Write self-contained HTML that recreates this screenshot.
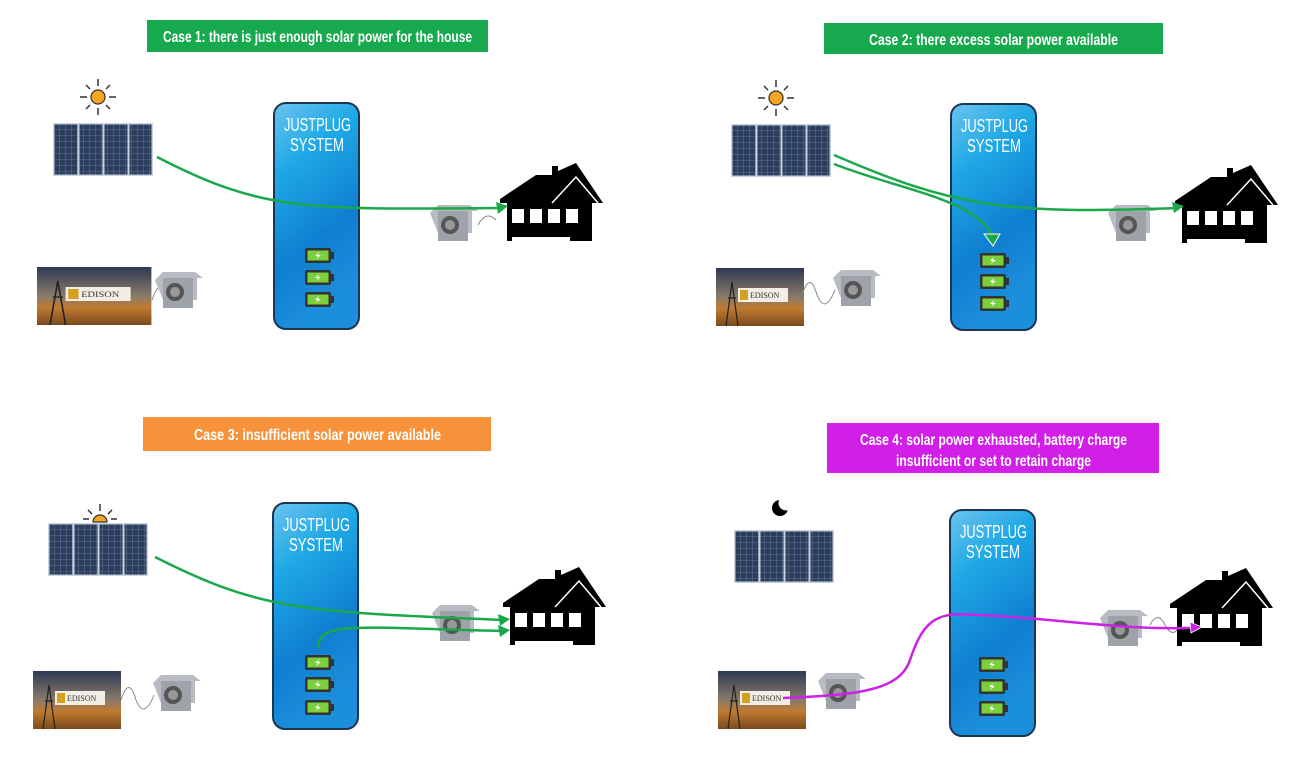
<!DOCTYPE html>
<html><head><meta charset="utf-8"><style>
html,body{margin:0;padding:0;background:#fff;}
svg{display:block;}
.lbl{font-family:"Liberation Sans",sans-serif;font-weight:bold;font-size:16px;fill:#fff;}
.jp{font-family:"Liberation Sans",sans-serif;font-size:18px;fill:#fff;}
</style></head><body>
<svg width="1307" height="758" viewBox="0 0 1307 758" xmlns="http://www.w3.org/2000/svg">
<defs>
<linearGradient id="bg" x1="0" y1="0" x2="0.3" y2="1">
<stop offset="0" stop-color="#6cc4ee"/><stop offset="0.3" stop-color="#1fa9e6"/><stop offset="0.7" stop-color="#0f7fd0"/><stop offset="1" stop-color="#1c8fdc"/>
</linearGradient>
<linearGradient id="ed" x1="0" y1="0" x2="0" y2="1">
<stop offset="0" stop-color="#2d3a52"/><stop offset="0.5" stop-color="#8a7a6a"/><stop offset="0.7" stop-color="#c07a30"/><stop offset="1" stop-color="#7a4a1e"/>
</linearGradient>
<pattern id="cells" width="6" height="6" patternUnits="userSpaceOnUse">
<rect width="6" height="6" fill="#2c3e5e"/><path d="M0 0H6M0 0V6" stroke="#8a9bb5" stroke-width="0.6"/>
</pattern>
<g id="panel">
<rect x="0" y="0" width="100" height="53" fill="#c9d3df"/>
<rect x="1.5" y="1.5" width="23" height="50" fill="url(#cells)"/>
<rect x="26.5" y="1.5" width="23" height="50" fill="url(#cells)"/>
<rect x="51.5" y="1.5" width="23" height="50" fill="url(#cells)"/>
<rect x="76.5" y="1.5" width="22" height="50" fill="url(#cells)"/>
</g>
<g id="sun">
<circle r="7" fill="#f5a623" stroke="#333" stroke-width="1.2"/>
<g stroke="#333" stroke-width="1.5">
<path d="M0-11V-18M0 11V18M-11 0H-18M11 0H18M8-8L12-12M-8-8L-12-12M8 8L12 12M-8 8L-12 12"/>
</g>
</g>
<g id="batt">
<rect x="0" y="0" width="26" height="15" rx="2" fill="#333"/>
<rect x="26" y="4" width="3" height="7" fill="#333"/>
<rect x="2.5" y="2.5" width="21" height="10" fill="#7ccf3c"/>
<path d="M14 4L10 8H13L11 11L16 7H13Z" fill="#fff"/>
</g>
<g id="jp">
<rect x="0" y="0" width="85" height="226" rx="12" fill="url(#bg)" stroke="#1d3553" stroke-width="2"/>
<text class="jp" x="10" y="28" textLength="67" lengthAdjust="spacingAndGlyphs">JUSTPLUG</text>
<text class="jp" x="16" y="48" textLength="54" lengthAdjust="spacingAndGlyphs">SYSTEM</text>
</g>
<g id="house">
<polygon points="0,36 36,12 52,12 52,3 58,3 58,8 76,0 103,40 92,40 92,78 70,78 70,74 12,74 12,78 7,78 7,40 0,40" fill="#000"/>
<rect x="12" y="46" width="12" height="14" fill="#fff"/>
<rect x="30" y="46" width="12" height="14" fill="#fff"/>
<rect x="48" y="46" width="12" height="14" fill="#fff"/>
<rect x="66" y="46" width="12" height="14" fill="#fff"/>
<polyline points="52,40 76,14 98,40" fill="none" stroke="#fff" stroke-width="1.5"/>
</g>
<g id="meter">
<path d="M0 10L8 2H40L48 8H42V30H8Z" fill="#b8bcc2"/>
<rect x="8" y="8" width="30" height="30" fill="#9ea3a9"/>
<circle cx="20" cy="22" r="9" fill="#555"/><circle cx="20" cy="22" r="5" fill="#999"/>
</g>
<g id="edison">
<rect x="0" y="0" width="88" height="58" fill="url(#ed)"/>
<path d="M10 58L16 14L22 58M12 30H20" stroke="#222" stroke-width="1.2" fill="none"/>
<rect x="22" y="20" width="50" height="14" fill="#f2eee6"/>
<rect x="24" y="22" width="8" height="10" fill="#d4a020"/>
<text x="34" y="30" font-family="Liberation Serif,serif" font-size="8" fill="#333">EDISON</text>
</g>
</defs>

<!-- Case 1 -->
<rect x="147" y="20" width="341" height="32" fill="#17a94e"/>
<text class="lbl" x="163" y="42" textLength="309" lengthAdjust="spacingAndGlyphs">Case 1: there is just enough solar power for the house</text>
<use href="#sun" x="98" y="97"/>
<use href="#panel" x="53" y="123"/>
<use href="#jp" x="274" y="103"/>
<use href="#batt" x="305" y="248"/><use href="#batt" x="305" y="270"/><use href="#batt" x="305" y="292"/>
<use href="#meter" x="430" y="203"/>
<path d="M478 225q8 -15 18 -5" stroke="#888" fill="none"/>
<use href="#house" x="500" y="163"/>
<g transform="translate(37 267) scale(1.3 1)"><use href="#edison"/></g>
<path d="M152 300q8 -25 15 0" stroke="#888" fill="none"/>
<use href="#meter" x="155" y="270"/>
<path d="M157 157C260 210 300 210 500 208" stroke="#1aa84a" stroke-width="2.5" fill="none"/>
<path d="M496 202L508 206L498 214Z" fill="#1aa84a"/>

<!-- Case 2 -->
<rect x="824" y="23" width="339" height="31" fill="#17a94e"/>
<text class="lbl" x="869" y="45" textLength="249" lengthAdjust="spacingAndGlyphs">Case 2: there excess solar power available</text>
<use href="#sun" x="776" y="98"/>
<use href="#panel" x="731" y="124"/>
<use href="#jp" x="951" y="104"/>
<use href="#batt" x="980" y="253"/><use href="#batt" x="980" y="274"/><use href="#batt" x="980" y="296"/>
<use href="#meter" x="1108" y="203"/>
<use href="#house" x="1175" y="165"/>
<use href="#edison" x="716" y="268"/>
<path d="M802 295q8 -25 15 0q8 20 18 -5" stroke="#888" fill="none"/>
<use href="#meter" x="833" y="268"/>
<path d="M834 155C950 205 1000 215 1178 208" stroke="#1aa84a" stroke-width="2.5" fill="none"/>
<path d="M1172 202L1184 206L1174 213Z" fill="#1aa84a"/>
<path d="M834 164C900 190 980 200 993 238" stroke="#1aa84a" stroke-width="2.5" fill="none"/>
<path d="M984 234L1000 234L993 246Z" fill="#1aa84a" stroke="#fff" stroke-width="1"/>

<!-- Case 3 -->
<rect x="143" y="417" width="348" height="34" fill="#f7923a"/>
<text class="lbl" x="194" y="440" textLength="247" lengthAdjust="spacingAndGlyphs">Case 3: insufficient solar power available</text>
<path d="M93 522A7 7 0 0 1 107 522Z" fill="#f5a623" stroke="#333" stroke-width="1.2"/>
<path d="M100 511V504M92 514L88 510M108 514L112 510M89 519H83M111 519H117" stroke="#333" stroke-width="1.5"/>
<use href="#panel" x="48" y="523"/>
<use href="#jp" x="273" y="503"/>
<use href="#batt" x="305" y="655"/><use href="#batt" x="305" y="677"/><use href="#batt" x="305" y="700"/>
<use href="#meter" x="432" y="603"/>
<use href="#house" x="503" y="567"/>
<use href="#edison" x="33" y="671"/>
<path d="M121 700q8 -25 15 0q8 20 18 -5" stroke="#888" fill="none"/>
<use href="#meter" x="153" y="673"/>
<path d="M155 557C260 610 300 612 505 620" stroke="#1aa84a" stroke-width="2.5" fill="none"/>
<path d="M498 614L510 619L500 626Z" fill="#1aa84a"/>
<path d="M318 648C318 620 360 628 505 631" stroke="#1aa84a" stroke-width="2.5" fill="none"/>
<path d="M498 625L510 630L500 637Z" fill="#1aa84a"/>

<!-- Case 4 -->
<rect x="827" y="423" width="332" height="50" fill="#d21fe8"/>
<text class="lbl" x="860" y="445" textLength="267" lengthAdjust="spacingAndGlyphs">Case 4: solar power exhausted, battery charge</text>
<text class="lbl" x="896" y="466" textLength="195" lengthAdjust="spacingAndGlyphs">insufficient or set to retain charge</text>
<circle cx="780" cy="508" r="8" fill="#000"/><circle cx="786" cy="503" r="7.5" fill="#fff"/>
<use href="#panel" x="734" y="530"/>
<use href="#jp" x="950" y="510"/>
<use href="#batt" x="979" y="657"/><use href="#batt" x="979" y="679"/><use href="#batt" x="979" y="701"/>
<use href="#meter" x="1100" y="608"/>
<path d="M1150 625q8 -15 15 0q8 15 15 0" stroke="#888" fill="none"/>
<use href="#house" x="1170" y="568"/>
<use href="#edison" x="718" y="671"/>
<use href="#meter" x="818" y="671"/>
<path d="M783 698C860 695 900 690 910 660C925 615 940 612 980 615C1050 618 1120 630 1190 628" stroke="#cc22e6" stroke-width="2.5" fill="none"/>
<path d="M1190 622L1202 627L1191 633Z" fill="#cc22e6" stroke="#fff" stroke-width="0.8"/>
</svg>
</body></html>
